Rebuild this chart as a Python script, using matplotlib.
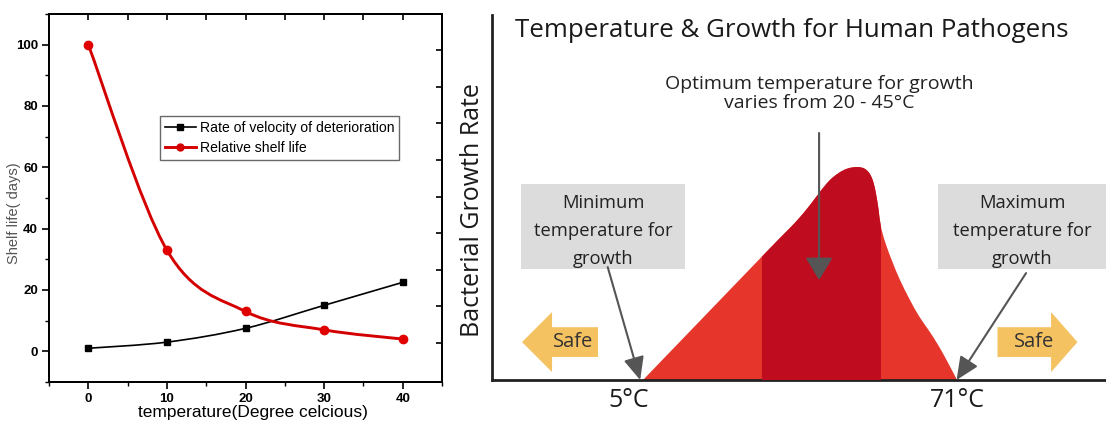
import numpy as np
import matplotlib
matplotlib.use('Agg')
from matplotlib import pyplot as plt
from matplotlib.path import Path
from matplotlib.patches import PathPatch, Rectangle, Polygon
from matplotlib.lines import Line2D

# left chart
temps = [0, 10, 20, 30, 40]
deterioration = [1, 3, 7.5, 15, 22.5]
shelf_life = [100, 33, 13, 7, 4]
series_names = ['Rate of velocity of deterioration', 'Relative shelf life']

# right infographic: growth curve outline (temperature, relative growth rate)
growth_temp = [5, 30, 38, 43.5, 46, 48, 50, 51.5, 52.6, 53.4, 54.0, 54.5,
               55, 56, 57.5, 59, 61, 63, 65, 67, 69, 71]
growth_rate = [0, 0.58, 0.765, 0.92, 0.97, 0.993, 1.0, 0.993, 0.97, 0.93, 0.87,
               0.80, 0.72, 0.64, 0.55, 0.47, 0.38, 0.30, 0.235, 0.165, 0.085, 0]
optimum_band = [30, 55]
limit_temps = [5, 71]
limit_labels = ['5°C', '71°C']

LIGHT_RED = '#e6352b'
DARK_RED = '#bf0d1f'
SAFE = '#f5c262'
BOX = '#dcdcdc'
ARROW = '#555555'
INFO_FONT = 'Open Sans'

plt.rcParams['font.family'] = ['Liberation Sans', 'DejaVu Sans']


def smooth_path(xs, ys, close_to=None):
    pts = np.column_stack([xs, ys]).astype(float)
    n = len(pts)
    verts = [pts[0]]
    codes = [Path.MOVETO]
    for i in range(n - 1):
        p0 = pts[max(i - 1, 0)]
        p1 = pts[i]
        p2 = pts[i + 1]
        p3 = pts[min(i + 2, n - 1)]
        verts += [p1 + (p2 - p0) / 6, p2 - (p3 - p1) / 6, p2]
        codes += [Path.CURVE4] * 3
    if close_to is not None:
        verts += [pts[0], pts[0]]
        codes += [Path.LINETO, Path.CLOSEPOLY]
    return Path(verts, codes)


fig = plt.figure(figsize=(11.06, 4.24), dpi=100)

# ---------------- left panel ----------------
ax = fig.add_axes([49 / 1106, 42 / 424, 393 / 1106, 368 / 424])
ax.set_xlim(-5, 45)
ax.set_ylim(-10, 110)

ax.add_patch(PathPatch(smooth_path(temps, deterioration), fill=False,
                       edgecolor='black', lw=1.2, zorder=3))
ax.add_patch(PathPatch(smooth_path(temps, shelf_life), fill=False,
                       edgecolor='#d40000', lw=2.1, zorder=3))
ax.plot(temps, deterioration, ls='none', marker='s', ms=5, color='black', zorder=4)
ax.plot(temps, shelf_life, ls='none', marker='o', ms=6, color='#e00000', zorder=4)

handles = [Line2D([], [], color='black', lw=1.2, marker='s', ms=5),
           Line2D([], [], color='#d40000', lw=2.1, marker='o', ms=5)]
leg = ax.legend(handles, series_names, loc='upper left',
                bbox_to_anchor=(0.282, 0.722), fontsize=10.1, frameon=True,
                fancybox=False, handlelength=2.2, handletextpad=0.3,
                borderpad=0.35, labelspacing=0.4, borderaxespad=0)
leg.get_frame().set_edgecolor('#444444')
leg.get_frame().set_linewidth(1.0)

ax.set_xticks([0, 10, 20, 30, 40])
ax.set_xticks([-5, 5, 15, 25, 35, 45], minor=True)
ax.set_yticks([0, 20, 40, 60, 80, 100])
ax.set_yticks([-10, 10, 30, 50, 70, 90, 110], minor=True)
ax.tick_params(which='major', direction='out', length=5, width=1.2,
               labelsize=9.5, pad=3)
ax.tick_params(which='minor', direction='out', length=3, width=1.0)
for lab in ax.get_xticklabels() + ax.get_yticklabels():
    lab.set_fontweight('bold')
for sp in ax.spines.values():
    sp.set_linewidth(1.3)

top = ax.secondary_xaxis('top')
top.set_xticks([0, 5, 10, 15, 20, 25, 30, 35, 40])
top.tick_params(direction='in', length=4, width=1.2, labeltop=False)
top.spines['top'].set_linewidth(1.3)

ax2 = ax.twinx()
ax2.set_ylim(-1.066, 8.99)
ax2.set_yticks(range(0, 9))
ax2.tick_params(direction='in', length=4, width=1.2, labelright=False)
for sp in ax2.spines.values():
    sp.set_linewidth(1.3)

ax.set_ylabel('Shelf life( days)', fontsize=10.5, color='#555555')
ax.yaxis.set_label_coords(-0.072, 0.46)
ax.set_xlabel('temperature(Degree celcious)', fontsize=12.5)
ax.xaxis.set_label_coords(0.52, -0.062)

# ---------------- right panel ----------------
rx = fig.add_axes([492 / 1106, 44 / 424, 614 / 1106, 365 / 424])
rx.set_xlim(-26.74, 102.3)
rx.set_ylim(0, 1.714)
rx.set_xticks([])
rx.set_yticks([])
rx.spines['top'].set_visible(False)
rx.spines['right'].set_visible(False)
for s in ('left', 'bottom'):
    rx.spines[s].set_linewidth(2.0)
    rx.spines[s].set_color('#222222')

shape = PathPatch(smooth_path(growth_temp, growth_rate, close_to=True),
                  facecolor=LIGHT_RED, edgecolor='none', zorder=2)
rx.add_patch(shape)
band = Rectangle((optimum_band[0], 0), optimum_band[1] - optimum_band[0], 1.2,
                 facecolor=DARK_RED, edgecolor='none', zorder=3)
rx.add_patch(band)
band.set_clip_path(shape)

rx.text(-21.9, 1.61, 'Temperature & Growth for Human Pathogens',
        family=INFO_FONT, fontsize=18.6, ha='left', va='baseline', color='#1a1a1a')
rx.text(-30.9, 0.80, 'Bacterial Growth Rate', family=INFO_FONT, fontsize=18,
        rotation=90, ha='center', va='center', color='#1a1a1a', clip_on=False)

# gray boxes with labels
for x0, x1, label in [(-20.64, 13.83, 'Minimum\ntemperature for\ngrowth'),
                      (67.0, 102.3, 'Maximum\ntemperature for\ngrowth')]:
    rx.add_patch(Rectangle((x0, 0.521), x1 - x0, 0.399, facecolor=BOX,
                           edgecolor='none', zorder=1, clip_on=False))
    cx = (x0 + x1) / 2 if x1 < 100 else 84.66
    rx.text(cx, 0.70, label, family=INFO_FONT, fontsize=13.2, ha='center',
            va='center', linespacing=1.72, color='#222222', zorder=5)

rx.text(42.0, 1.347, 'Optimum temperature for growth\nvaries from 20 - 45°C',
        family=INFO_FONT, fontsize=14, ha='center', va='center',
        linespacing=1.05, color='#222222')

astyle = dict(arrowstyle='-|>,head_length=1.0,head_width=0.45', color=ARROW,
              lw=1.5, mutation_scale=14, shrinkA=0, shrinkB=0)
rx.annotate('', xy=(42.0, 0.469), xytext=(42.0, 1.16),
            arrowprops=dict(astyle, arrowstyle='-|>,head_length=1.0,head_width=0.6'),
            zorder=6)
rx.annotate('', xy=(4.4, 0.0), xytext=(-2.42, 0.53), arrowprops=astyle, zorder=6)
rx.annotate('', xy=(70.9, 0.0), xytext=(85.5, 0.502), arrowprops=astyle, zorder=6)

# safe arrows
yc, hh, bh = 0.178, 0.141, 0.070
left_arrow = [(-20.43, yc), (-14.12, yc + hh), (-14.12, yc + bh), (-4.46, yc + bh),
              (-4.46, yc - bh), (-14.12, yc - bh), (-14.12, yc - hh)]
right_arrow = [(96.3, yc), (90.75, yc + hh), (90.75, yc + bh), (79.5, yc + bh),
               (79.5, yc - bh), (90.75, yc - bh), (90.75, yc - hh)]
for pts in (left_arrow, right_arrow):
    rx.add_patch(Polygon(pts, closed=True, facecolor=SAFE, edgecolor='none', zorder=2))
rx.text(-9.7, yc, 'Safe', family=INFO_FONT, fontsize=14.5, ha='center',
        va='center', color='#333333', zorder=5)
rx.text(87.2, yc, 'Safe', family=INFO_FONT, fontsize=14.5, ha='center',
        va='center', color='#333333', zorder=5)

for t, lab in zip(limit_temps, limit_labels):
    rx.text(t - 3 if t < 10 else t, -0.094, lab, family=INFO_FONT, fontsize=18,
            ha='center', va='center', color='#1a1a1a', clip_on=False)

fig.savefig('out.png', dpi=100)
